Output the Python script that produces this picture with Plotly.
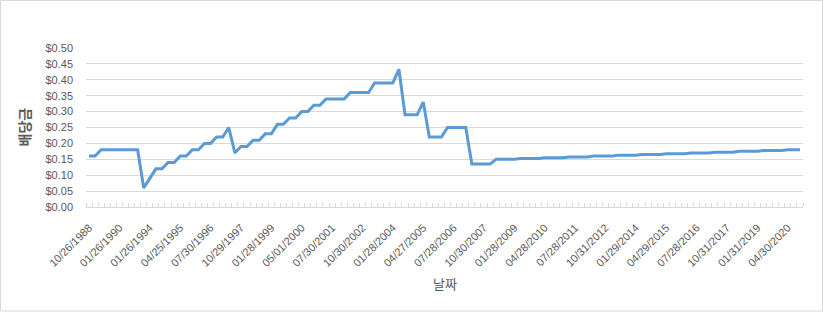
import plotly.graph_objects as go

# Category labels shown on the x axis (every 5th quarterly payment)
date_labels = [
    "10/26/1988", "01/26/1990", "01/26/1994", "04/25/1995", "07/30/1996",
    "10/29/1997", "01/28/1999", "05/01/2000", "07/30/2001", "10/30/2002",
    "01/28/2004", "04/27/2005", "07/28/2006", "10/30/2007", "01/28/2009",
    "04/28/2010", "07/28/2011", "10/31/2012", "01/29/2014", "04/29/2015",
    "07/28/2016", "10/31/2017", "01/31/2019", "04/30/2020",
]
label_step = 5

# Dividend per payment
dividends = (
    [0.16, 0.16]
    + [0.18] * 7
    + [0.06, 0.09]
    + [0.12, 0.12, 0.14, 0.14, 0.16, 0.16, 0.18, 0.18, 0.20, 0.20, 0.22, 0.22]
    + [0.25, 0.17]
    + [0.19, 0.19, 0.21, 0.21, 0.23, 0.23, 0.26, 0.26, 0.28, 0.28, 0.30, 0.30, 0.32, 0.32]
    + [0.34] * 4
    + [0.36] * 4
    + [0.39] * 4
    + [0.433]
    + [0.29] * 3
    + [0.33]
    + [0.22] * 3
    + [0.25] * 4
    + [0.135] * 4
    + [0.15] * 4
    + [0.1525] * 4
    + [0.155] * 4
    + [0.1575] * 4
    + [0.16] * 4
    + [0.1625] * 4
    + [0.165] * 4
    + [0.1675] * 4
    + [0.17] * 4
    + [0.1725] * 4
    + [0.175] * 4
    + [0.1775] * 4
    + [0.18] * 3
)

y_ticks = [0.0, 0.05, 0.10, 0.15, 0.20, 0.25, 0.30, 0.35, 0.40, 0.45, 0.50]

n = len(dividends)
x_idx = list(range(n))
tickvals = list(range(0, label_step * len(date_labels), label_step))

W, H = 824, 312
ML, MR, MT, MB = 86, 21, 48, 105
pw, ph = W - ML - MR, H - MT - MB

FONT = "Liberation Sans, Noto Sans CJK KR, sans-serif"
TXT = "#595959"
GRID = "#d9d9d9"

fig = go.Figure()
fig.add_trace(go.Scatter(
    x=x_idx, y=dividends, mode="lines",
    line=dict(color="#5b9bd5", width=3),
    hoverinfo="y",
))

fig.update_layout(
    width=W, height=H,
    margin=dict(l=ML, r=MR, t=MT, b=MB, autoexpand=False),
    paper_bgcolor="white", plot_bgcolor="white",
    showlegend=False,
    font=dict(family=FONT, size=11, color=TXT),
    xaxis=dict(
        range=[-0.5, n - 0.5],
        tickmode="array", tickvals=tickvals, ticktext=date_labels,
        tickangle=-45, ticks="", ticklabelstandoff=9,
        showgrid=False, zeroline=False,
        showline=True, linecolor=GRID, linewidth=1,
        minor=dict(tickmode="linear", tick0=-0.5, dtick=1, ticks="inside",
                   ticklen=4, tickcolor=GRID, tickwidth=1, showgrid=False),
        tickfont=dict(family=FONT, size=11, color=TXT),
        automargin=False,
    ),
    yaxis=dict(
        range=[0, 0.5],
        tickmode="array", tickvals=y_ticks, tickformat="$.2f",
        showgrid=True, gridcolor=GRID, gridwidth=1,
        zeroline=False, showline=False, ticks="",
        ticklabelstandoff=12,
        tickfont=dict(family=FONT, size=11, color=TXT),
        automargin=False,
    ),
    annotations=[
        dict(text="<b>배당금</b>", xref="paper", yref="paper",
             x=(23 - ML) / pw, y=0.5, xanchor="center", yanchor="middle",
             textangle=-90, showarrow=False,
             font=dict(family="Noto Sans CJK KR", size=14, color=TXT)),
        dict(text="날짜", xref="paper", yref="paper",
             x=0.5, y=(H - MB - 283) / ph, xanchor="center", yanchor="middle",
             showarrow=False,
             font=dict(family="Noto Sans CJK KR", size=13, color=TXT)),
    ],
    shapes=[
        dict(type="rect", xref="paper", yref="paper",
             x0=(0.5 - ML) / pw, x1=(822.5 - ML) / pw,
             y0=(H - MB - 311) / ph, y1=(H - MB - 0.5) / ph,
             line=dict(color=GRID, width=1), fillcolor="rgba(0,0,0,0)",
             layer="below"),
    ],
)

fig.write_html("out.html")
